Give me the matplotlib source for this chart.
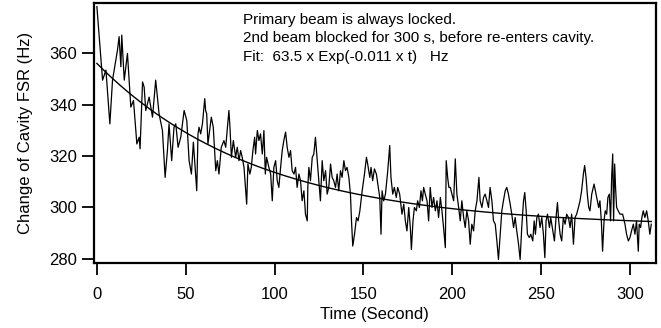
import numpy as np
import matplotlib.pyplot as plt

plt.rcParams['font.family'] = ['Liberation Sans', 'DejaVu Sans']

# time (s) and FSR change (Hz)
t = [0.0, 3.2, 5.1, 7.3, 8.8, 11.6, 12.5, 13.5, 14.0, 15.4, 17.2, 19.1, 20.6, 22.5, 23.8, 24.3,
     25.7, 26.6, 27.5, 29.4, 31.3, 33.1, 35.0, 36.9, 38.4, 39.7, 40.6, 42.1, 43.4, 44.4, 45.7,
     47.2, 49.1, 50.6, 51.9, 53.2, 54.3, 56.2, 56.9, 57.5, 58.4, 59.4, 60.7, 61.2, 61.8, 62.5,
     64.4, 65.5, 66.9, 67.8, 68.7, 70.0, 71.5, 72.5, 74.3, 74.9, 75.7, 76.8, 78.1, 79.0, 80.0,
     80.9, 81.8, 82.8, 84.3, 85.0, 86.1, 86.9, 87.8, 88.8, 89.3, 90.3, 91.2, 92.1, 93.1, 94.0,
     94.8, 95.5, 96.8, 97.8, 98.7, 99.6, 100.6, 101.5, 102.4, 103.4, 104.3, 105.2, 106.2, 107.1,
     108.1, 109.0, 109.9, 110.9, 111.8, 112.7, 113.7, 114.6, 115.5, 116.5, 117.4, 118.4, 118.7,
     119.3, 120.2, 121.2, 122.1, 123.0, 124.0, 124.9, 125.8, 126.8, 127.7, 128.7, 129.6, 130.5,
     131.5, 132.4, 133.3, 134.3, 135.2, 136.1, 137.1, 138.0, 139.0, 139.9, 140.8, 141.8, 142.7,
     143.3, 144.0, 145.0, 146.1, 147.0, 148.0, 149.3, 150.6, 151.7, 152.4, 153.6, 154.3, 155.2,
     156.2, 157.3, 158.1, 159.2, 159.9, 160.5, 161.4, 162.4, 163.7, 164.8, 165.5, 166.5, 167.4,
     168.5, 169.3, 170.4, 171.7, 172.7, 173.6, 174.5, 175.5, 176.4, 177.0, 177.9, 178.7, 179.8,
     180.5, 181.5, 182.4, 183.2, 183.9, 184.8, 185.8, 186.7, 187.6, 188.6, 189.5, 190.5, 191.4,
     192.3, 193.3, 194.2, 195.1, 196.1, 196.6, 197.4, 198.1, 198.9, 199.8, 200.8, 201.7, 202.6,
     203.6, 204.5, 205.4, 206.4, 207.3, 208.2, 209.2, 210.1, 211.0, 212.0, 212.9, 213.9, 215.0,
     215.7, 216.7, 217.6, 218.5, 219.5, 220.4, 221.3, 222.3, 223.2, 224.2, 225.1, 226.0, 227.0,
     227.9, 228.8, 229.8, 230.7, 231.6, 232.6, 233.5, 234.5, 235.4, 236.3, 237.3, 238.2, 239.1,
     240.1, 240.8, 241.6, 242.3, 243.4, 244.2, 245.3, 246.1, 246.8, 247.6, 248.5, 249.4, 250.4,
     251.3, 252.1, 252.8, 253.6, 254.7, 255.4, 256.6, 257.5, 258.4, 259.2, 259.9, 260.7, 261.6,
     262.5, 263.5, 264.4, 265.4, 266.3, 267.2, 268.2, 269.1, 270.0, 271.0, 271.9, 272.8, 273.8,
     274.5, 275.3, 276.0, 276.8, 277.5, 278.5, 279.8, 280.9, 282.4, 283.1, 283.9, 284.6, 285.4,
     286.1, 286.9, 287.6, 288.4, 289.1, 289.7, 290.3, 290.8, 291.4, 291.9, 292.5, 293.4, 294.4,
     295.9, 297.2, 298.1, 299.1, 300.0, 300.9, 301.9, 302.8, 303.7, 304.7, 305.2, 306.0, 306.7,
     307.5, 308.4, 309.4, 310.3, 311.2, 312.0]
fsr = [378.1, 349.5, 353.4, 332.5, 349.5, 361.2, 366.4, 354.7, 367.0, 349.5, 359.9, 339.0, 341.6,
       324.7, 327.3, 322.8, 348.8, 346.8, 337.7, 342.9, 335.1, 349.5, 336.4, 329.9, 311.7, 322.1,
       332.5, 318.2, 331.2, 332.5, 323.4, 327.3, 337.7, 333.8, 318.2, 313.0, 325.4, 306.5, 328.6,
       331.2, 328.6, 332.5, 342.3, 337.7, 336.4, 324.7, 335.1, 331.2, 314.3, 318.2, 313.0, 323.4,
       326.0, 323.4, 337.7, 331.2, 319.5, 326.0, 319.5, 323.4, 318.2, 322.1, 319.5, 315.6, 301.3,
       316.9, 313.0, 315.6, 322.1, 327.3, 320.8, 329.9, 326.0, 328.6, 320.8, 329.9, 313.0, 319.5,
       315.6, 313.0, 302.6, 315.6, 318.2, 310.4, 307.8, 315.6, 322.1, 326.0, 329.3, 323.4, 319.5,
       322.1, 314.3, 313.0, 315.6, 307.8, 313.0, 310.4, 302.6, 306.5, 297.4, 294.8, 307.8, 315.6,
       310.4, 319.5, 320.8, 327.3, 318.2, 310.4, 302.6, 318.2, 310.4, 314.3, 305.2, 307.8, 316.9,
       311.7, 310.4, 307.8, 313.0, 306.5, 314.3, 311.7, 318.2, 314.3, 315.6, 311.7, 305.2, 294.8,
       285.0, 289.6, 296.1, 294.8, 298.7, 306.5, 313.0, 319.5, 316.9, 311.7, 315.6, 310.4, 315.0,
       313.0, 309.1, 303.9, 289.6, 306.5, 302.6, 305.2, 314.3, 324.1, 311.7, 305.2, 307.8, 303.9,
       307.8, 305.2, 297.4, 301.3, 294.8, 290.9, 300.0, 292.2, 283.7, 294.8, 300.0, 298.7, 302.6,
       300.0, 306.5, 302.6, 307.8, 305.2, 302.6, 294.8, 307.8, 300.0, 303.9, 298.7, 302.6, 296.1,
       303.9, 298.7, 292.2, 284.4, 318.2, 311.7, 307.8, 307.8, 305.2, 302.6, 318.9, 305.2, 300.0,
       294.8, 302.6, 296.1, 292.2, 298.7, 294.8, 285.7, 293.5, 290.9, 298.7, 302.6, 311.7, 302.6,
       300.0, 303.9, 305.2, 302.6, 300.0, 307.8, 302.6, 294.8, 293.5, 287.0, 279.8, 289.6, 298.7,
       302.6, 306.5, 307.8, 305.2, 301.3, 297.4, 292.2, 296.1, 290.9, 285.7, 279.8, 292.2, 302.6,
       305.8, 298.7, 289.6, 288.3, 289.6, 287.0, 294.8, 289.6, 296.1, 297.4, 292.2, 296.1, 289.6,
       280.5, 294.8, 297.4, 292.2, 296.1, 290.9, 287.0, 296.1, 301.9, 294.8, 289.6, 287.0, 296.1,
       293.5, 297.4, 296.1, 292.2, 297.4, 285.7, 296.1, 297.4, 300.0, 302.6, 306.5, 313.0, 316.3,
       311.7, 305.2, 300.0, 298.7, 305.2, 309.1, 305.2, 300.0, 302.6, 294.8, 283.0, 294.8, 298.7,
       297.4, 303.9, 305.2, 294.8, 311.7, 320.8, 294.8, 316.9, 307.8, 300.0, 298.7, 297.4, 297.4,
       293.5, 289.6, 287.0, 288.3, 290.9, 293.5, 289.6, 294.8, 283.0, 293.5, 292.2, 296.1, 298.7,
       296.1, 298.7, 294.8, 289.6, 293.5]

# exponential fit quoted in the figure
amp = 63.5
rate = 0.011
offset = 292.5

fig = plt.figure(figsize=(6.61, 3.28), dpi=100)
ax = fig.add_axes([0.142, 0.198, 0.85, 0.793])

ax.plot(t, fsr, color='black', lw=0.9)
tf = np.linspace(0, 312, 300)
ax.plot(tf, offset + amp * np.exp(-rate * tf), color='black', lw=1.0)

ax.set_xlim(-1.7, 314.5)
ax.set_ylim(278.4, 379.5)
ax.set_xticks([0, 50, 100, 150, 200, 250, 300])
ax.set_yticks([280, 300, 320, 340, 360])
ax.tick_params(direction='out', length=8.5, width=1.3, labelsize=12, top=False, right=False)
ax.tick_params(axis='x', pad=9)
for s in ax.spines.values():
    s.set_linewidth(1.6)

ax.set_xlabel('Time (Second)', fontsize=12, labelpad=3)
ax.set_ylabel('Change of Cavity FSR (Hz)', fontsize=12, labelpad=12)

ax.text(0.265, 0.962,
        'Primary beam is always locked.\n'
        '2nd beam blocked for 300 s, before re-enters cavity.\n'
        'Fit:  63.5 x Exp(-0.011 x t)   Hz',
        transform=ax.transAxes, ha='left', va='top', fontsize=11, linespacing=1.4)

plt.savefig('out.png', dpi=100)
